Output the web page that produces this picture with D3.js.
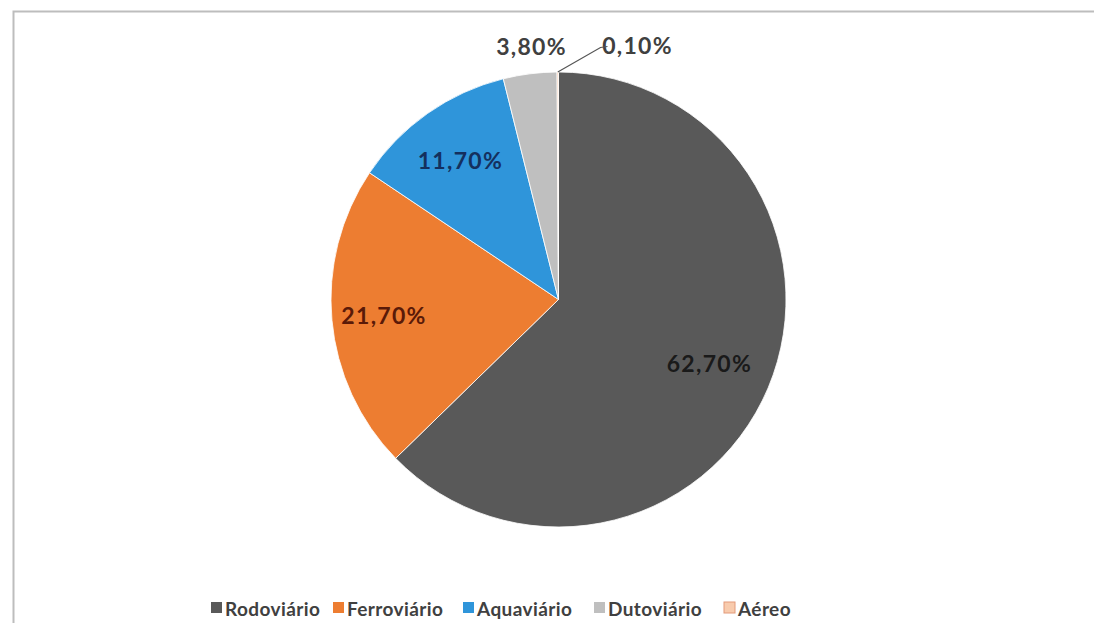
<!DOCTYPE html>
<html><head><meta charset="utf-8">
<script src="https://cdn.jsdelivr.net/npm/d3@7"></script>
<style>body{margin:0;background:#fff}svg{display:block}</style>
</head><body>
<svg id="c" width="1094" height="623"></svg>
<script>
const categories = ["Rodoviário","Ferroviário","Aquaviário","Dutoviário","Aéreo"];
const values = [62.7, 21.7, 11.7, 3.8, 0.1];
const labels = ["62,70%","21,70%","11,70%","3,80%","0,10%"];
const colors = ["#595959","#ED7D31","#2F95DA","#BFBFBF","#F8CBAD"];
const labelColors = ["#1a1a1a","#5a1a08","#14305e","#404040","#404040"];

const svg = d3.select("#c");
// frame
svg.append("path").attr("d","M13.5,623 L13.5,11.5 L1094,11.5").attr("fill","none").attr("stroke","#bdbdbd").attr("stroke-width",2);

const cx = 558.5, cy = 299.5, r = 227.5;
const g = svg.append("g").attr("transform",`translate(${cx},${cy})`);
const pie = d3.pie().sort(null).value(d=>d)(values);
const arc = d3.arc().innerRadius(0).outerRadius(r);
g.selectAll("path.s").data(pie).join("path").attr("class","s")
  .attr("d",arc).attr("fill",(d,i)=>colors[i]).attr("stroke","#fff").attr("stroke-width",0.8);

const labelR = [0.72, 0.77, 0.75, 1.12, 1.16];
const font = "Lato, 'Open Sans', sans-serif";
pie.forEach((d,i)=>{
  let a = (d.startAngle+d.endAngle)/2;
  let x = Math.sin(a)*r*labelR[i], y = -Math.cos(a)*r*labelR[i];
  if(i===4){ x = 79; y = -255; }
  if(i===3){ x = -27; y = -254; }
  g.append("text").attr("x",x).attr("y",y).attr("text-anchor","middle").attr("dominant-baseline","central")
   .attr("font-family",font).attr("font-weight","bold").attr("font-size",23).attr("letter-spacing",1.3)
   .attr("fill",labelColors[i]).text(labels[i]);
});
// leader line for Aéreo
{
  const d = pie[4]; const a=(d.startAngle+d.endAngle)/2;
  const x0 = Math.sin(a)*r, y0 = -Math.cos(a)*r;
  g.append("path").attr("d",`M${x0},${y0} L${42},${-252} L${49},${-253}`)
   .attr("fill","none").attr("stroke","#555").attr("stroke-width",1.2);
}

// legend
const legX = [211,333,463,594,724];
const lg = svg.append("g");
categories.forEach((c,i)=>{
  lg.append("rect").attr("x",legX[i]).attr("y",602).attr("width",11).attr("height",11)
    .attr("fill",colors[i]).attr("stroke", i===4?"#e39a7a":"none").attr("stroke-width",1);
  lg.append("text").attr("x",legX[i]+14).attr("y",608).attr("dominant-baseline","central")
    .attr("font-family",font).attr("font-weight","bold").attr("font-size",19).attr("letter-spacing",0.4)
    .attr("fill","#404040").text(c);
});
</script>
</body></html>
